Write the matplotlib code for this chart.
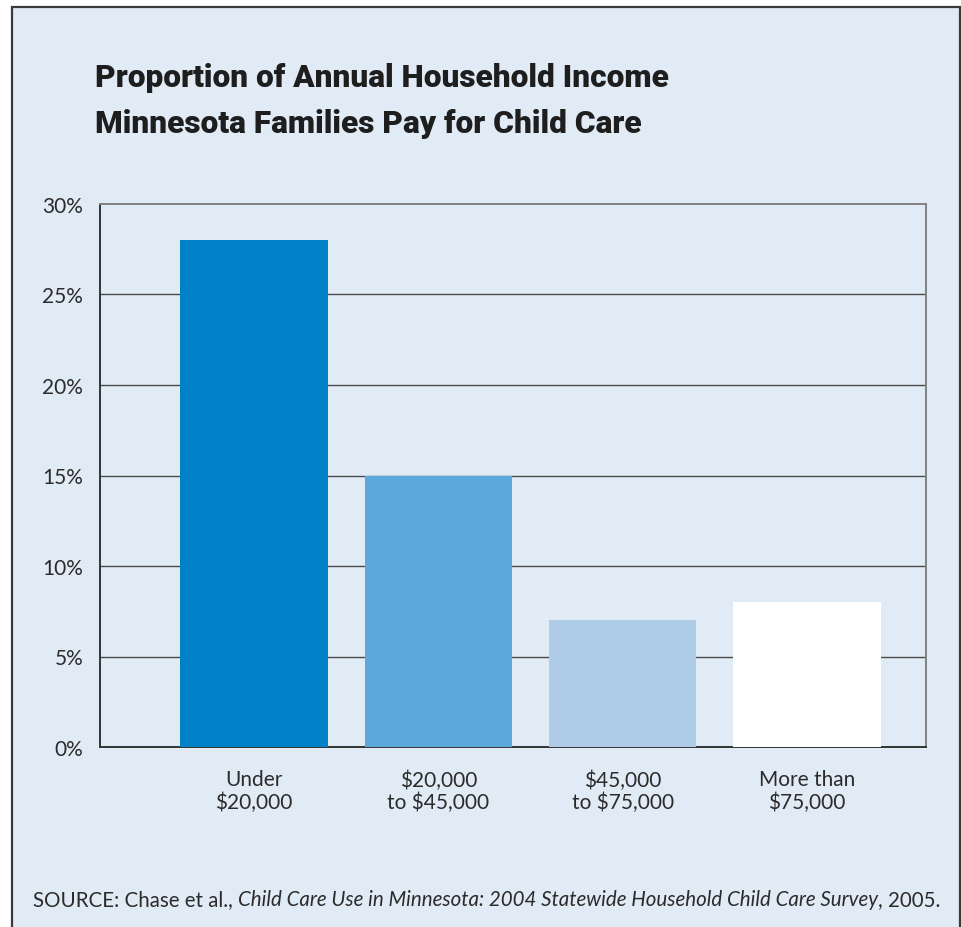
import matplotlib.pyplot as plt
from matplotlib.patches import Rectangle

categories = ["Under\n$20,000", "$20,000\nto $45,000", "$45,000\nto $75,000", "More than\n$75,000"]
shares = [28, 15, 7, 8]
bar_colors = ["#0080c6", "#5da8db", "#aecbe8", "#ffffff"]
yticks = [0, 5, 10, 15, 20, 25, 30]

W, H = 962, 928
bg = "#e1ebf6"
text_color = "#2b2b2b"
body_font = ["Lato", "DejaVu Sans"]
title_font = ["Roboto", "DejaVu Sans"]

fig = plt.figure(figsize=(W / 100, H / 100), dpi=100, facecolor="white")

# light blue panel with a dark frame (bottom edge runs off the page)
fig.patches.append(Rectangle((12 / W, -0.05), (960 - 12) / W, 1.05 - 8 / H,
                             transform=fig.transFigure, facecolor=bg,
                             edgecolor="#3a3a3a", linewidth=1.6, zorder=-5))

ax = fig.add_axes([100 / W, 1 - 748 / H, (926 - 100) / W, (748 - 205) / H])
ax.set_zorder(2)
ax.patch.set_alpha(0)

x = range(len(categories))
ax.bar(x, shares, width=0.80, color=bar_colors, zorder=3)
ax.set_xlim(-0.837, 3.647)
ax.set_ylim(0, 30)

ax.set_yticks(yticks)
ax.set_yticklabels([f"{v}%" for v in yticks], fontsize=15, color=text_color, family=body_font)
ax.set_xticks(list(x))
ax.set_xticklabels(categories, fontsize=15, color=text_color, family=body_font, linespacing=1.15)
ax.tick_params(axis="both", length=0)
ax.tick_params(axis="y", pad=12)
ax.tick_params(axis="x", pad=16)

for v in yticks[1:-1]:
    ax.axhline(v, color="#4a4a4a", linewidth=1.0, zorder=1)

for side in ["top", "right"]:
    ax.spines[side].set_color("#808080")
    ax.spines[side].set_linewidth(1.4)
for side in ["left", "bottom"]:
    ax.spines[side].set_color("#333333")
    ax.spines[side].set_linewidth(1.4)

for line, ypix in [("Proportion of Annual Household Income", 78),
                   ("Minnesota Families Pay for Child Care", 124)]:
    fig.text(95 / W, 1 - ypix / H, line, fontsize=22.8, fontweight="heavy",
             family=title_font, color="#1e1e1e", va="center", ha="left")

src = fig.text(33 / W, 1 - 900 / H, "SOURCE: Chase et al., ", fontsize=14.8,
               color=text_color, family=body_font, va="center", ha="left")
fig.canvas.draw()
bb = src.get_window_extent()
fig.text(bb.x1 / W, 1 - 900 / H,
         "Child Care Use in Minnesota: 2004 Statewide Household Child Care Survey",
         fontsize=14.8, style="italic", color=text_color, family=body_font,
         va="center", ha="left")
fig.canvas.draw()
bb2 = fig.texts[-1].get_window_extent()
fig.text(bb2.x1 / W, 1 - 900 / H, ", 2005.", fontsize=14.8,
         color=text_color, family=body_font, va="center", ha="left")

fig.savefig("out.png", dpi=100, facecolor="white")
